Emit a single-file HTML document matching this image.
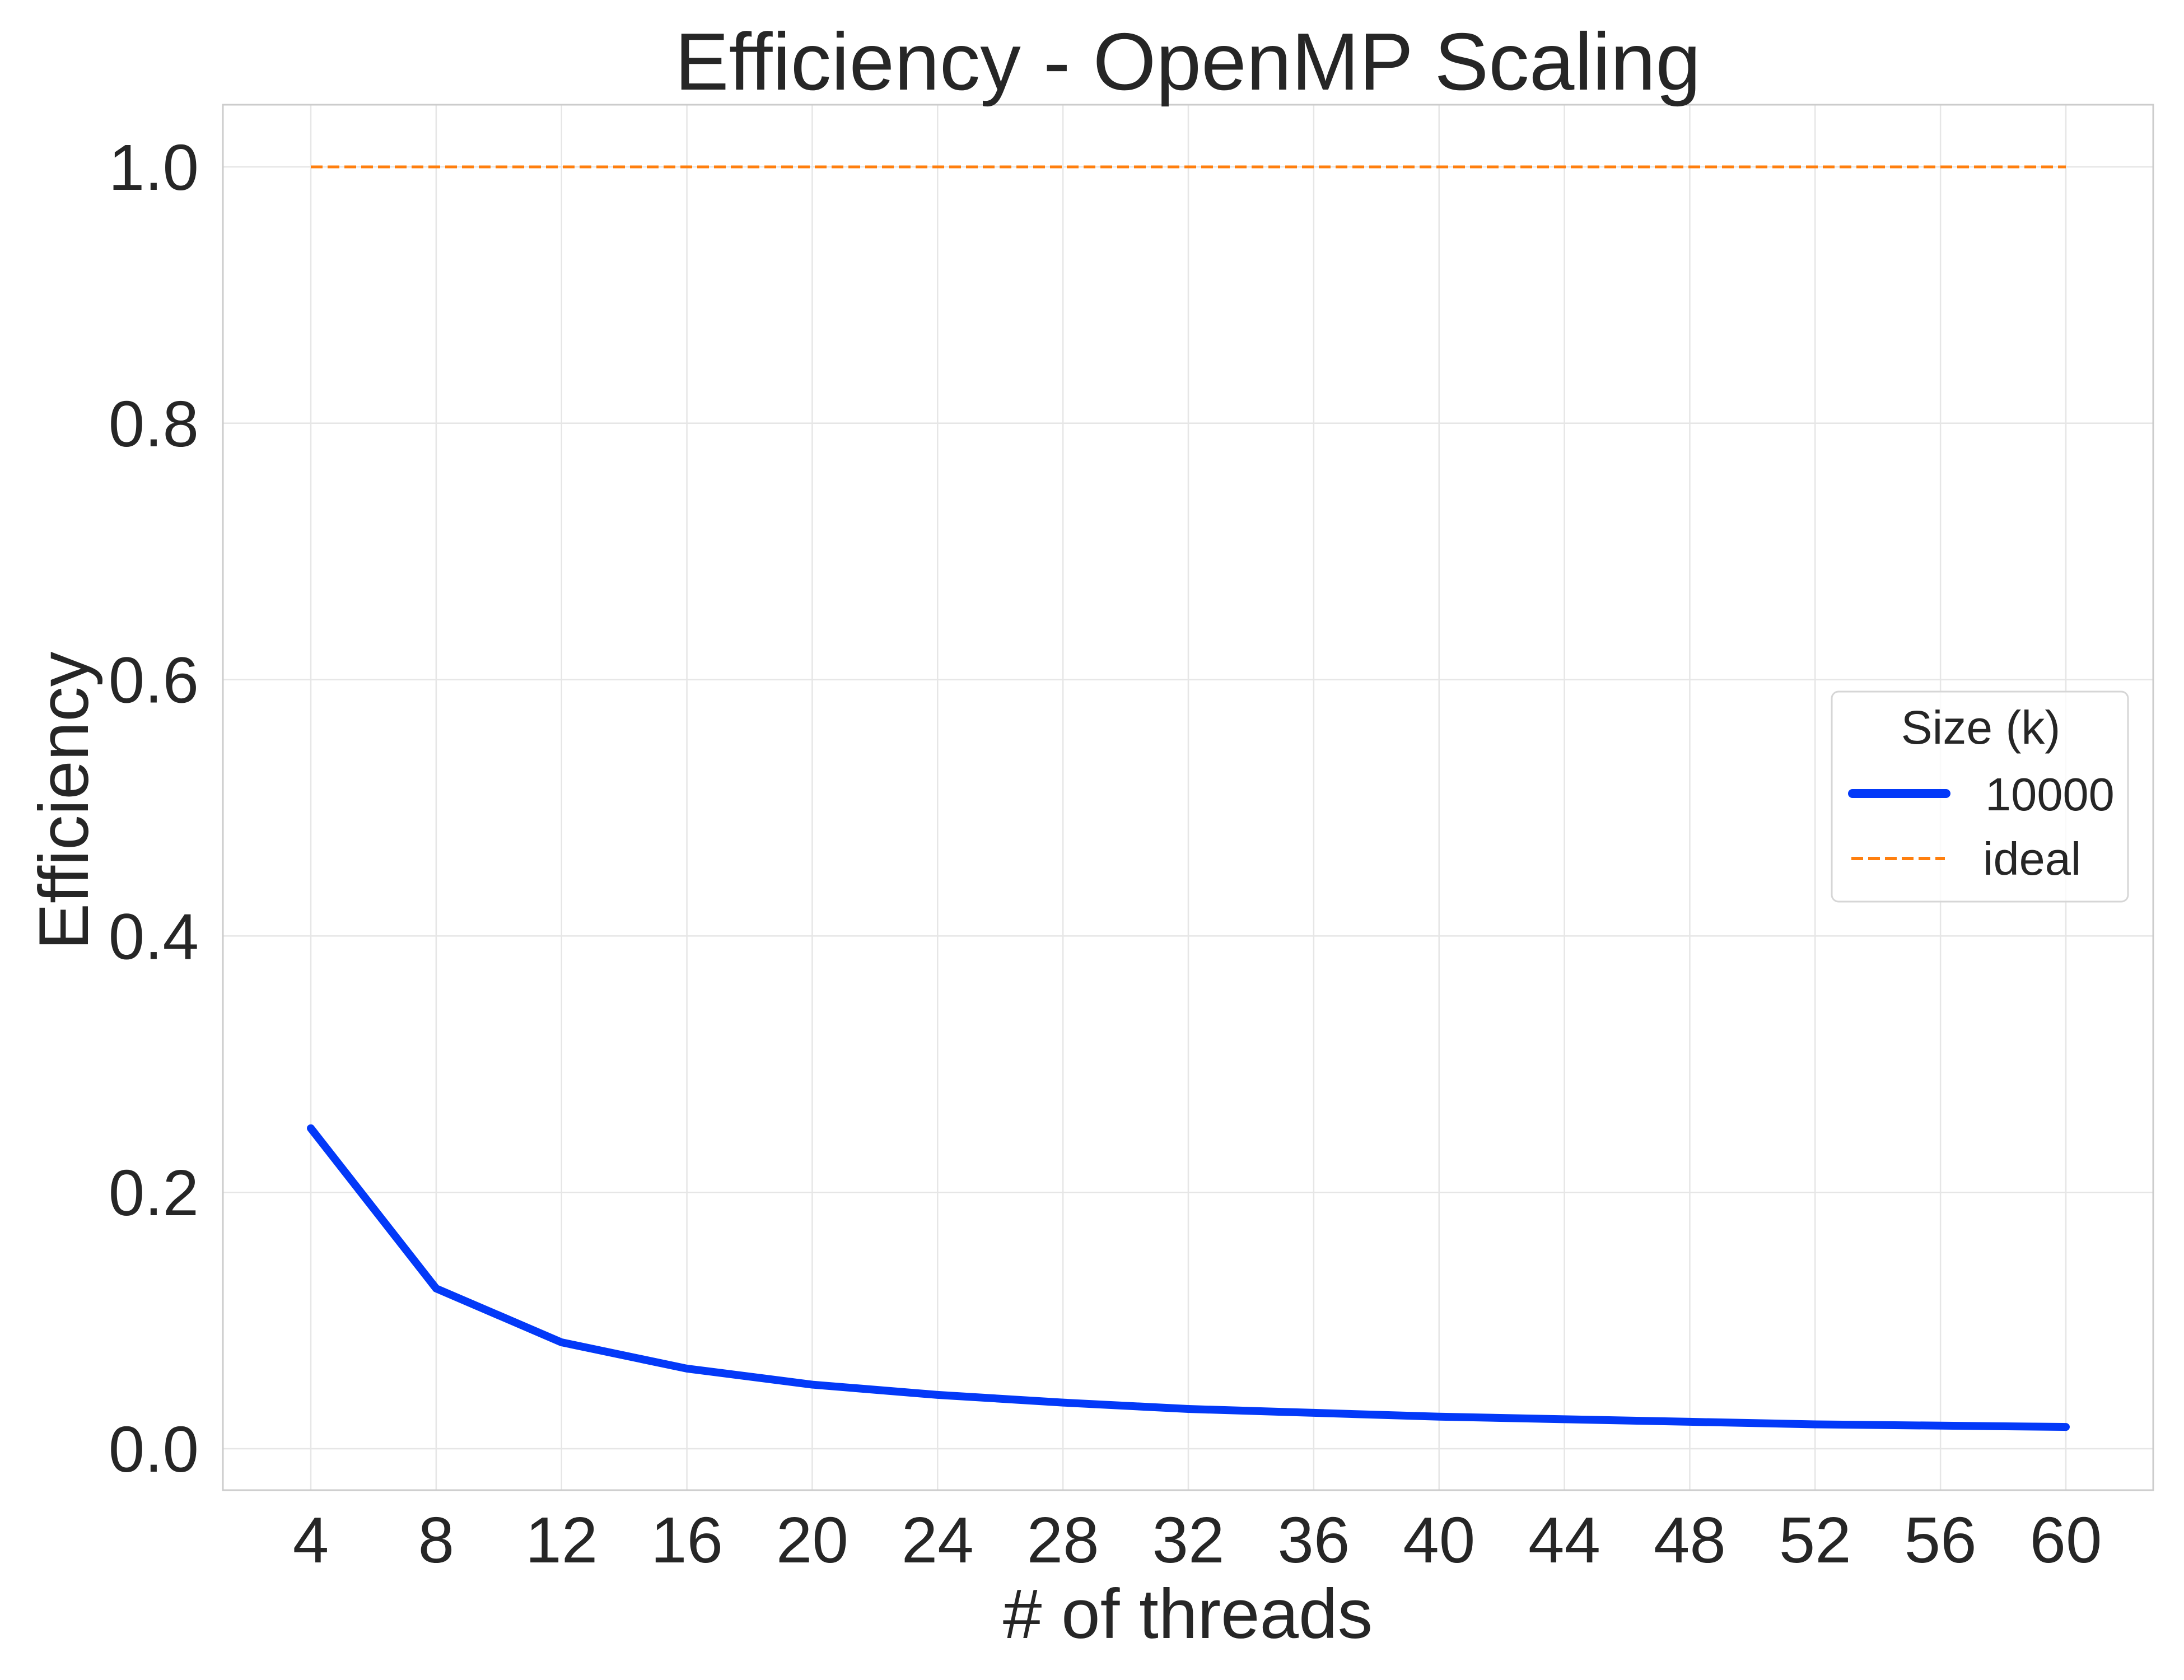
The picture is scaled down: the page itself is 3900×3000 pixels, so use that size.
<!DOCTYPE html>
<html><head><meta charset="utf-8"><style>
html,body{margin:0;padding:0;background:#fff;}
svg{display:block;font-family:"Liberation Sans",Arial,sans-serif;}
</style></head><body>
<svg id="chart" width="3900" height="3000" viewBox="0 0 3900 3000" xmlns="http://www.w3.org/2000/svg">
<rect width="3900" height="3000" fill="#fff"/>
<g id="grid"></g>
<rect x="398" y="187" width="3447" height="2474" fill="none" stroke="#cccccc" stroke-width="3"/>
<g id="marks"></g>
<g id="ticks"></g>
<text x="2121" y="160" font-size="145" fill="#262626" text-anchor="middle">Efficiency - OpenMP Scaling</text>
<text x="2121" y="2925" font-size="125" fill="#262626" text-anchor="middle"># of threads</text>
<text transform="translate(157,1430) rotate(-90)" font-size="125" fill="#262626" text-anchor="middle">Efficiency</text>
<g>
<rect x="3271" y="1235" width="529" height="375" rx="12" fill="#fff" fill-opacity="0.8" stroke="#d6d6d6" stroke-width="3"/>
<text x="3537" y="1328" font-size="84" fill="#262626" text-anchor="middle">Size (k)</text>
<line x1="3308" y1="1417" x2="3475" y2="1417" stroke="#0339f8" stroke-width="16" stroke-linecap="round"/>
<text x="3545" y="1447" font-size="83" fill="#262626">10000</text>
<line x1="3306" y1="1533" x2="3473" y2="1533" stroke="#ff7f0e" stroke-width="6" stroke-dasharray="21,9"/>
<text x="3541" y="1562" font-size="83" fill="#262626">ideal</text>
</g>
</svg>
<script>
const threads = [4,8,12,16,20,24,28,32,36,40,44,48,52,56,60];
const efficiency = [0.25,0.125,0.083,0.0625,0.05,0.042,0.036,0.031,0.028,0.025,0.023,0.021,0.019,0.018,0.017];
const ideal = [1,1,1,1,1,1,1,1,1,1,1,1,1,1,1];
const yTicks = [0.0,0.2,0.4,0.6,0.8,1.0];
const xTickLabels = ["4","8","12","16","20","24","28","32","36","40","44","48","52","56","60"];

const NS = "http://www.w3.org/2000/svg";
const X = v => 555 + (v - 4) * (3689 - 555) / 56;
const Y = v => 2587 - v * (2587 - 298);
function mk(tag, attrs, parent, txt){
  const e = document.createElementNS(NS, tag);
  for (const k in attrs) e.setAttribute(k, attrs[k]);
  if (txt !== undefined) e.textContent = txt;
  document.getElementById(parent).appendChild(e);
  return e;
}
threads.forEach((t,i) => {
  const g = mk('line',{x1:X(t),x2:X(t),y1:187,y2:2661,stroke:'#e6e6e6','stroke-width':2.5},'grid');
  
  
  const l = mk('text',{x:X(t),y:2790,'font-size':116,fill:'#262626','text-anchor':'middle'},'ticks',xTickLabels[i]);
  
  
});
yTicks.forEach(v => {
  const g = mk('line',{x1:398,x2:3845,y1:Y(v),y2:Y(v),stroke:'#e6e6e6','stroke-width':2.5},'grid');
  
  
  const l = mk('text',{x:355,y:Y(v)+41,'font-size':116,fill:'#262626','text-anchor':'end'},'ticks',v.toFixed(1));
  
  
});
const ip = mk('polyline',{points:threads.map((t,i)=>X(t)+','+Y(ideal[i])).join(' '),fill:'none',stroke:'#ff7f0e','stroke-width':5,'stroke-dasharray':'21,9'},'marks');


const ep = mk('polyline',{points:threads.map((t,i)=>X(t)+','+Y(efficiency[i])).join(' '),fill:'none',stroke:'#0339f8','stroke-width':14,'stroke-linecap':'round','stroke-linejoin':'round'},'marks');


</script>
</body></html>
